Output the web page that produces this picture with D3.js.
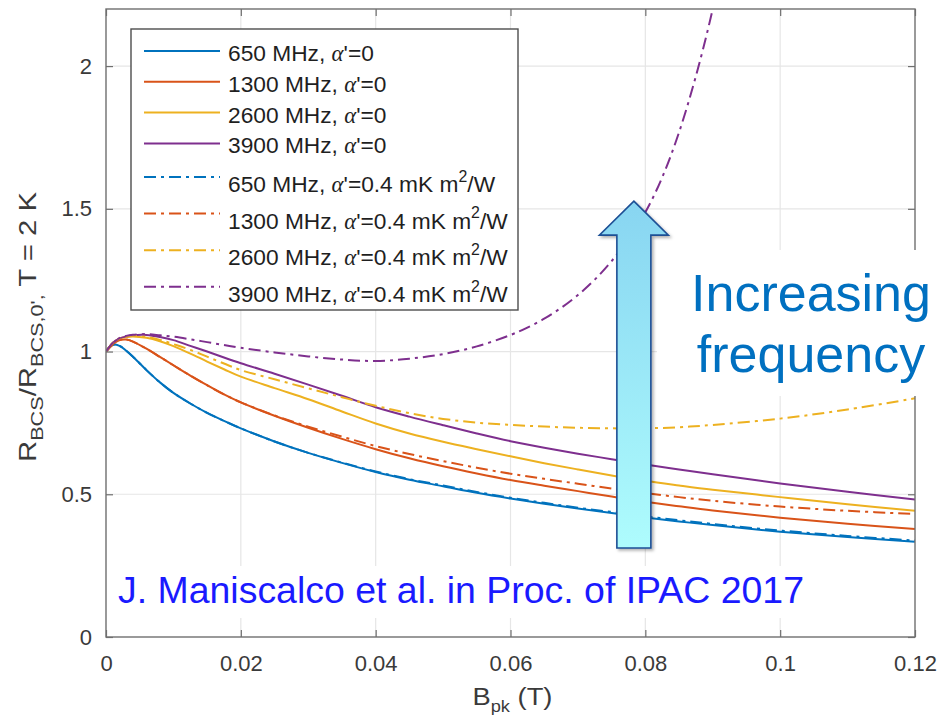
<!DOCTYPE html>
<html>
<head>
<meta charset="utf-8">
<script src="https://cdn.jsdelivr.net/npm/d3@7"></script>
<style>
  body { margin: 0; background: #fff; }
  svg { display: block; font-family: "Liberation Sans", Arial, Helvetica, sans-serif; }
</style>
</head>
<body>
<svg id="chart" width="941" height="728"></svg>
<script>
// Peak surface field B_pk (T) sampled for the curves
const bField = [0, 0.001, 0.002, 0.003, 0.004, 0.006, 0.008, 0.01, 0.0125, 0.015, 0.0175, 0.02,
  0.025, 0.03, 0.035, 0.04, 0.045, 0.05, 0.055, 0.06, 0.065, 0.07, 0.075, 0.08, 0.085, 0.09,
  0.1, 0.11, 0.12];

// R_BCS / R_BCS,0 at T = 2 K, alpha' = 0
const r650 = [1.0, 1.024, 1.02, 1.003, 0.982, 0.935, 0.892, 0.855, 0.818, 0.785, 0.757, 0.731,
  0.685, 0.645, 0.61, 0.578, 0.551, 0.528, 0.505, 0.485, 0.467, 0.45, 0.434, 0.419, 0.405, 0.392,
  0.369, 0.35, 0.334];
const r1300 = [1.0, 1.025, 1.04, 1.042, 1.035, 1.01, 0.981, 0.952, 0.916, 0.882, 0.85, 0.822,
  0.775, 0.733, 0.694, 0.658, 0.626, 0.598, 0.573, 0.55, 0.53, 0.511, 0.492, 0.474, 0.458, 0.443,
  0.418, 0.397, 0.378];
const r2600 = [1.0, 1.03, 1.045, 1.051, 1.053, 1.048, 1.036, 1.019, 0.993, 0.965, 0.938, 0.912,
  0.872, 0.833, 0.79, 0.748, 0.713, 0.684, 0.658, 0.633, 0.609, 0.587, 0.566, 0.547, 0.531, 0.516,
  0.49, 0.465, 0.442];
const r3900 = [1.0, 1.03, 1.046, 1.053, 1.057, 1.058, 1.051, 1.04, 1.02, 1.0, 0.979, 0.959,
  0.922, 0.884, 0.845, 0.805, 0.772, 0.742, 0.713, 0.686, 0.663, 0.642, 0.623, 0.604, 0.587, 0.57,
  0.538, 0.509, 0.482];

// R_BCS / R_BCS,0 at T = 2 K, alpha' = 0.4 mK m^2/W
const r650hot = [1.0, 1.024, 1.02, 1.003, 0.982, 0.935, 0.892, 0.855, 0.818, 0.785, 0.757, 0.731,
  0.685, 0.645, 0.611, 0.58, 0.553, 0.531, 0.508, 0.488, 0.47, 0.453, 0.438, 0.423, 0.409, 0.396,
  0.373, 0.354, 0.338];
const r1300hot = [1.0, 1.025, 1.04, 1.042, 1.035, 1.01, 0.981, 0.952, 0.916, 0.882, 0.85, 0.822,
  0.776, 0.737, 0.702, 0.669, 0.641, 0.616, 0.593, 0.572, 0.554, 0.537, 0.52, 0.504, 0.49, 0.477,
  0.457, 0.442, 0.431];
const r2600hot = [1.0, 1.03, 1.046, 1.052, 1.055, 1.051, 1.041, 1.026, 1.006, 0.982, 0.958, 0.935,
  0.903, 0.871, 0.84, 0.81, 0.784, 0.764, 0.751, 0.743, 0.737, 0.733, 0.731, 0.731, 0.735, 0.743,
  0.765, 0.797, 0.836];
// the 3900 MHz heated curve runs away, so it has its own (denser) field samples
const b3900hot = [0, 0.001, 0.002, 0.003, 0.004, 0.006, 0.008, 0.01, 0.0125, 0.015, 0.0175, 0.02,
  0.025, 0.03, 0.035, 0.04, 0.045, 0.05, 0.055, 0.06, 0.0625, 0.065, 0.0675, 0.07, 0.0725, 0.075,
  0.0775, 0.08, 0.0825, 0.085, 0.0875, 0.09, 0.0925];
const r3900hot = [1.0, 1.03, 1.047, 1.055, 1.059, 1.061, 1.057, 1.052, 1.043, 1.033, 1.023, 1.013,
  0.997, 0.983, 0.972, 0.967, 0.975, 0.991, 1.018, 1.058, 1.084, 1.115, 1.153, 1.198, 1.252, 1.317,
  1.395, 1.488, 1.61, 1.768, 1.965, 2.2, 2.48];

const freqLabels = ["650 MHz", "1300 MHz", "2600 MHz", "3900 MHz"];
const alphaLabels = ["=0", "=0.4 mK m"];
const seriesColors = ["#0072BD", "#D95319", "#EDB120", "#7E2F8E"];

const xTicks = [0, 0.02, 0.04, 0.06, 0.08, 0.1, 0.12];
const xTickLabels = ["0", "0.02", "0.04", "0.06", "0.08", "0.1", "0.12"];
const yTicks = [0, 0.5, 1, 1.5, 2];
const yTickLabels = ["0", "0.5", "1", "1.5", "2"];

// ---------------------------------------------------------------
const svg = d3.select("#chart");
const area = { left: 106, right: 915, top: 9, bottom: 637 };

const x = d3.scaleLinear().domain([0, 0.12]).range([area.left, area.right]);
const y = d3.scaleLinear().domain([0, 2.2]).range([area.bottom, area.top]);

const solidSets = [r650, r1300, r2600, r3900];
const hotSets = [r650hot, r1300hot, r2600hot, r3900hot];
const hotFields = [bField, bField, bField, b3900hot];

const series = [];
solidSets.forEach((r, i) => series.push({ freq: freqLabels[i], hot: false, b: bField, r, color: seriesColors[i] }));
hotSets.forEach((r, i) => series.push({ freq: freqLabels[i], hot: true, b: hotFields[i], r, color: seriesColors[i] }));

const dashDot = "12,5,3,5";

// grid
const grid = svg.append("g").attr("stroke", "#e6e6e6").attr("stroke-width", 1.2);
grid.selectAll("line.v").data(xTicks.slice(1, -1)).join("line")
  .attr("x1", d => x(d)).attr("x2", d => x(d)).attr("y1", area.top).attr("y2", area.bottom);
grid.selectAll("line.h").data(yTicks.slice(1)).join("line")
  .attr("y1", d => y(d)).attr("y2", d => y(d)).attr("x1", area.left).attr("x2", area.right);

// curves
svg.append("clipPath").attr("id", "plotClip").append("rect")
  .attr("x", area.left).attr("y", area.top)
  .attr("width", area.right - area.left).attr("height", area.bottom - area.top);

const line = d3.line().curve(d3.curveCatmullRom.alpha(0.5));
const curves = svg.append("g").attr("clip-path", "url(#plotClip)").attr("fill", "none");
series.forEach(s => {
  curves.append("path")
    .attr("d", line(s.b.map((b, k) => [x(b), y(s.r[k])])))
    .attr("stroke", s.color)
    .attr("stroke-width", 2)
    .attr("stroke-dasharray", s.hot ? dashDot : null);
});

// axes: inward ticks on all four sides, labels bottom and left
const axisColor = "#6f6f6f";
function styleAxis(g) {
  g.select(".domain").remove();
  g.selectAll(".tick line").attr("stroke", axisColor).attr("stroke-width", 1.2);
  g.selectAll(".tick text").attr("fill", "#3a3a3a").attr("font-size", 22)
    .attr("font-family", "'Liberation Sans', Arial, sans-serif");
}
svg.append("g").attr("transform", `translate(0,${area.bottom})`)
  .call(d3.axisBottom(x).tickValues(xTicks).tickFormat((d, i) => xTickLabels[i])
    .tickSizeInner(-7).tickSizeOuter(0).tickPadding(18))
  .call(styleAxis);
svg.append("g").attr("transform", `translate(0,${area.top})`)
  .call(d3.axisTop(x).tickValues(xTicks).tickFormat(() => "").tickSizeInner(-7).tickSizeOuter(0))
  .call(styleAxis);
svg.append("g").attr("transform", `translate(${area.left},0)`)
  .call(d3.axisLeft(y).tickValues(yTicks).tickFormat((d, i) => yTickLabels[i])
    .tickSizeInner(-7).tickSizeOuter(0).tickPadding(14))
  .call(styleAxis);
svg.append("g").attr("transform", `translate(${area.right},0)`)
  .call(d3.axisRight(y).tickValues(yTicks).tickFormat(() => "").tickSizeInner(-7).tickSizeOuter(0))
  .call(styleAxis);

svg.append("rect")
  .attr("x", area.left).attr("y", area.top)
  .attr("width", area.right - area.left).attr("height", area.bottom - area.top)
  .attr("fill", "none").attr("stroke", axisColor).attr("stroke-width", 1.4);

// stretch a text along its own direction to the wanted length
function fitWidth(text, target) {
  const w = text.node().getBBox().width;
  text.attr("transform", `scale(${target / w},1)`);
}

// axis titles
const xTitle = svg.append("g").attr("transform", `translate(${(area.left + area.right) / 2 + 2},705)`)
  .append("text").attr("text-anchor", "middle").attr("font-size", 24).attr("fill", "#3a3a3a");
xTitle.append("tspan").text("B");
xTitle.append("tspan").attr("font-size", 16).attr("dy", 7).text("pk");
xTitle.append("tspan").attr("dy", -7).text(" (T)");
fitWidth(xTitle, 80);

const yTitle = svg.append("g").attr("transform", `translate(36,${(area.top + area.bottom) / 2 + 4}) rotate(-90)`)
  .append("text").attr("text-anchor", "middle").attr("font-size", 23).attr("fill", "#3a3a3a");
yTitle.append("tspan").text("R");
yTitle.append("tspan").attr("font-size", 17).attr("dy", 7).text("BCS");
yTitle.append("tspan").attr("dy", -7).text("/R");
yTitle.append("tspan").attr("font-size", 17).attr("dy", 7).text("BCS,0',");
yTitle.append("tspan").attr("dy", -7).text(" T = 2 K");
fitWidth(yTitle, 271);

// legend
const legend = svg.append("g");
legend.append("rect")
  .attr("x", 131).attr("y", 29).attr("width", 387).attr("height", 281)
  .attr("fill", "#fff").attr("stroke", "#4d4d4d").attr("stroke-width", 1.4);

const legendTexts = [];
series.forEach((s, i) => {
  const ly = i < 4 ? 51 + 30.8 * i : 177 + 36.6 * (i - 4);
  legend.append("line")
    .attr("x1", 144).attr("x2", 220).attr("y1", ly).attr("y2", ly)
    .attr("stroke", s.color).attr("stroke-width", 2)
    .attr("stroke-dasharray", s.hot ? dashDot : null);
  const g = legend.append("g").attr("transform", `translate(228,${ly + (s.hot ? 15 : 10)})`);
  const t = g.append("text").attr("font-size", 20).attr("fill", "#1f1f1f");
  t.append("tspan").text(s.freq + ", ");
  t.append("tspan").attr("font-family", "'Liberation Serif', 'DejaVu Serif', serif")
    .attr("font-style", "italic").text("\u03B1");
  t.append("tspan").text("'" + alphaLabels[s.hot ? 1 : 0]);
  if (s.hot) {
    t.append("tspan").attr("font-size", 14).attr("dy", -9).text("2");
    t.append("tspan").attr("dy", 9).text("/W");
  }
  legendTexts.push(g);
});
const widest = d3.max(legendTexts, g => g.node().getBBox().width);
const k = 280 / widest;
legendTexts.forEach(g => {
  const tr = g.attr("transform");
  g.attr("transform", tr + ` scale(${k})`);
});

// annotation: text panels
svg.append("rect").attr("x", 657).attr("y", 250).attr("width", 284).attr("height", 146).attr("fill", "#fff");
svg.append("rect").attr("x", 108).attr("y", 566).attr("width", 704).attr("height", 52).attr("fill", "#fff");

// annotation: "increasing frequency" arrow
const defs = svg.append("defs");
const grad = defs.append("linearGradient").attr("id", "arrowFill")
  .attr("x1", 0).attr("y1", 0).attr("x2", 0).attr("y2", 1);
grad.append("stop").attr("offset", "0%").attr("stop-color", "#88d5f1");
grad.append("stop").attr("offset", "100%").attr("stop-color", "#aefcfd");
const shadow = defs.append("filter").attr("id", "arrowShadow")
  .attr("x", "-20%").attr("y", "-10%").attr("width", "150%").attr("height", "130%");
shadow.append("feDropShadow").attr("dx", 2).attr("dy", 2).attr("stdDeviation", 1.5)
  .attr("flood-color", "#000").attr("flood-opacity", 0.3);

const arrowB = 0.0783, arrowTop = 1.527, arrowBottom = 0.312;
const ax = x(arrowB), tipY = y(arrowTop), baseY = y(arrowBottom);
const shaftHalf = 17, headHalf = 34.5, headLen = 34;
const arrowPts = [
  [ax, tipY], [ax + headHalf, tipY + headLen], [ax + shaftHalf, tipY + headLen],
  [ax + shaftHalf, baseY], [ax - shaftHalf, baseY], [ax - shaftHalf, tipY + headLen],
  [ax - headHalf, tipY + headLen]
];
svg.append("path")
  .attr("d", "M" + arrowPts.map(p => p.join(",")).join("L") + "Z")
  .attr("fill", "url(#arrowFill)").attr("stroke", "#1d4f95").attr("stroke-width", 1.6)
  .attr("stroke-linejoin", "miter").attr("filter", "url(#arrowShadow)");

const note = svg.append("g").attr("fill", "#0070C0").attr("font-size", 52).attr("text-anchor", "middle");
note.append("text").attr("x", 811).attr("y", 311).text("Increasing");
note.append("text").attr("x", 811).attr("y", 372).text("frequency");

svg.append("text").attr("x", 118).attr("y", 603)
  .attr("font-size", 36).attr("fill", "#1a1aff")
  .attr("textLength", 686).attr("lengthAdjust", "spacingAndGlyphs")
  .text("J. Maniscalco et al. in Proc. of IPAC 2017");
</script>
</body>
</html>
